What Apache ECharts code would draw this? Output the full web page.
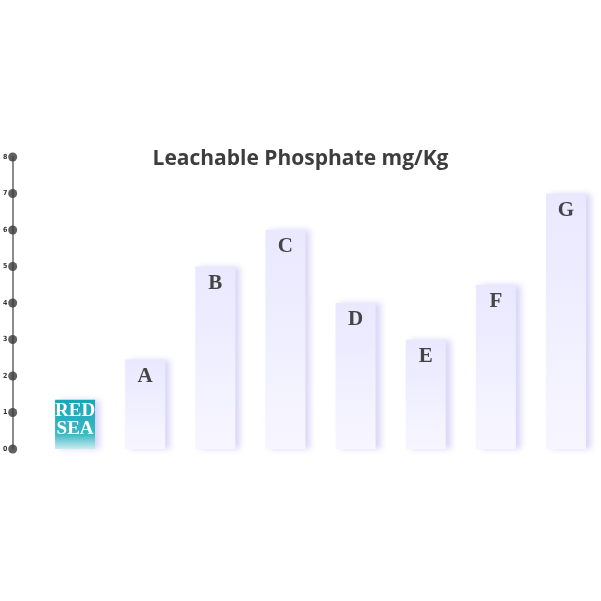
<!DOCTYPE html><html><head><meta charset="utf-8"><script src="https://cdn.jsdelivr.net/npm/echarts@6/dist/echarts.min.js"></script></head><body style="margin:0;background:#fff"><div id="c" style="width:601px;height:601px"></div><script>
var categories=['RED\nSEA','A','B','C','D','E','F','G'];
var values=[1.35,2.45,5,6,4,3,4.5,7];
var ticks=[0,1,2,3,4,5,6,7,8];
var ch=echarts.init(document.getElementById('c'));
var lav={type:'linear',x:0,y:0,x2:0,y2:1,colorStops:[{offset:0,color:'#e9e8ff'},{offset:1,color:'#f7f6ff'}]};
var teal={type:'linear',x:0,y:0,x2:0,y2:1,colorStops:[{offset:0,color:'#16a6b6'},{offset:0.7,color:'#3db7c4'},{offset:1,color:'#c9ecf0'}]};
ch.setOption({
title:{text:'Leachable Phosphate mg/Kg',left:'center',top:144,textStyle:{fontFamily:'Open Sans',fontWeight:'bold',fontSize:21,color:'#3d3d3d'}},
grid:[{left:40,right:-7,top:157,bottom:152},{left:12,width:1,top:157,bottom:152}],
xAxis:[{type:'category',data:categories,gridIndex:0,show:false},{type:'value',gridIndex:1,min:-1,max:1,show:false}],
yAxis:[{type:'value',gridIndex:0,min:0,max:8,show:false},
{type:'value',gridIndex:1,min:0,max:8,interval:1,axisLine:{show:true,lineStyle:{color:'#666',width:1.5}},axisTick:{show:false},splitLine:{show:false},
axisLabel:{margin:5,fontSize:7,fontFamily:'DejaVu Sans Condensed',fontWeight:'bold',color:'#333'}}],
series:[{type:'bar',xAxisIndex:0,yAxisIndex:0,barWidth:40,
data:values.map(function(v,i){return {value:v,itemStyle:{color:i===0?teal:lav}};}),
itemStyle:{shadowColor:'rgba(150,140,230,0.35)',shadowBlur:6,shadowOffsetX:5,shadowOffsetY:0},
label:{show:true,position:'insideTop',distance:i=0,offset:[0,8],formatter:function(p){return p.name;},
fontFamily:'Liberation Sans Narrow',fontWeight:'bold',fontSize:21,lineHeight:18,
color:'#444',rich:{}}},
{type:'scatter',xAxisIndex:1,yAxisIndex:1,symbolSize:9,itemStyle:{color:'#3a3a3a'},data:ticks.map(function(t){return [0,t];}),silent:true}]
});
var o=ch.getOption();
o.series[0].data[0].label={color:'#fff',fontSize:19,offset:[0,2]};
ch.setOption({series:[{data:o.series[0].data}]});
</script></body></html>
